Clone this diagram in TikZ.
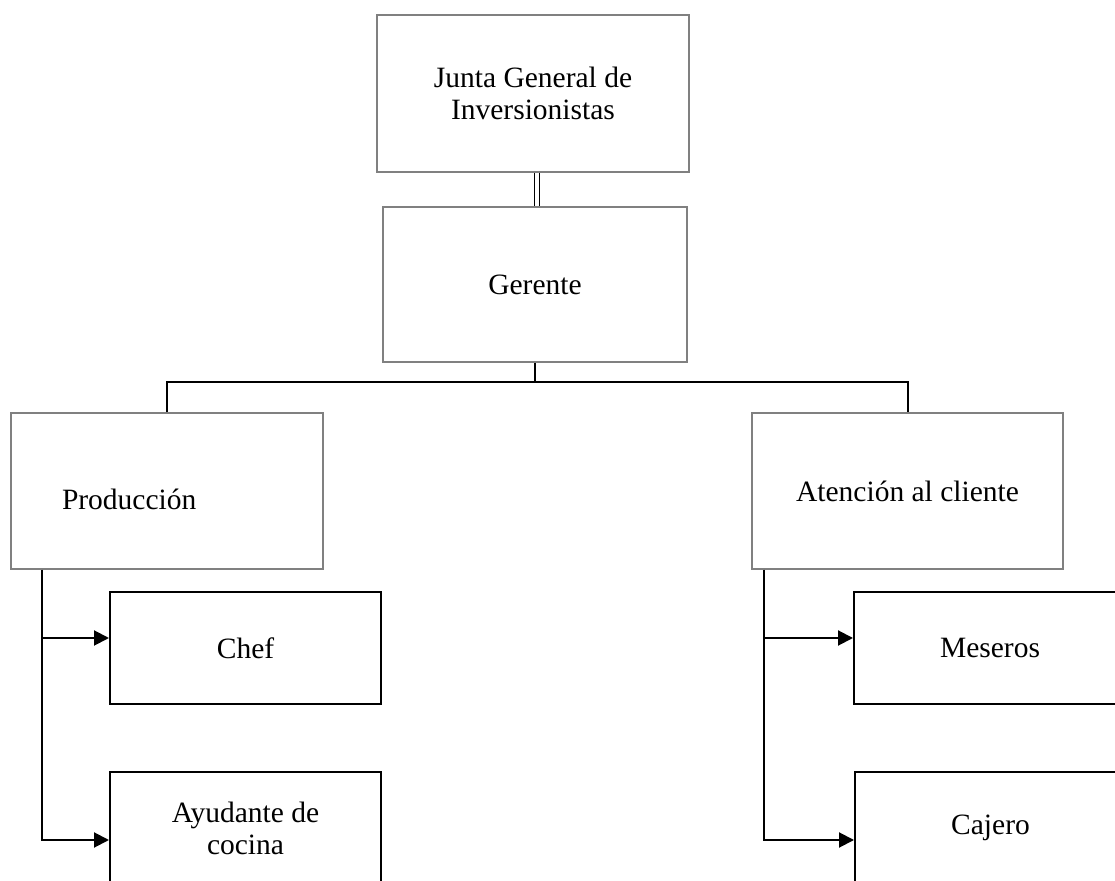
\documentclass[tikz,border=0pt]{standalone}
\usepackage{fontspec}
\setmainfont{Liberation Serif}
\usetikzlibrary{arrows.meta}

\begin{document}
\begin{tikzpicture}[x=1pt, y=1pt,
    every node/.style={font=\fontsize{29.5}{32}\selectfont},
    cajagris/.style={draw=black!50, line width=1.1pt, align=center, inner sep=0pt},
    cajanegra/.style={draw=black, line width=2pt, align=center, inner sep=0pt,
      minimum width=271pt, minimum height=112pt},
    conector/.style={line width=2pt},
    flecha/.style={conector, -{Triangle[length=15pt, width=15pt]}}]
  \useasboundingbox (0,0) rectangle (1115,880);
  \clip (0,0) rectangle (1115,880);
  % la junta y el gerente, arriba
  \node[cajagris, minimum width=312pt, minimum height=157pt] (junta) at (533,786.5)
    {Junta General de\\Inversionistas};
  \node[cajagris, minimum width=304pt, minimum height=155pt] (gerente) at (535,595.5) {Gerente};
  % las dos areas
  \node[cajagris, minimum width=312pt, minimum height=156pt, text width=210pt,
    inner xsep=51pt, align=left, text height=38pt] (produccion) at (167,389) {Producción};
  \node[cajagris, minimum width=311pt, minimum height=156pt] (atencion) at (907.5,389)
    {Atención al cliente};
  % los puestos de cada area
  \node[cajanegra] (chef) at (245.5,232) {Chef};
  \node[cajanegra] (ayudante) at (245.5,52) {Ayudante de\\cocina};
  \node[cajanegra, minimum width=272pt] (meseros) at (990,232) {Meseros};
  \node[cajanegra] (cajero) at (990.5,52) {Cajero};

  % doble raya de la junta al gerente
  \draw[double, double distance=3.5pt, line width=1.3pt]
    ([xshift=4pt]junta.south) -- ([xshift=4pt]junta.south |- gerente.north);
  % del gerente a las areas
  \draw[conector] (gerente.south) -- ++(0,-19) coordinate (barra);
  \draw[conector] (produccion.north) |- (barra) -| (atencion.north);
  % produccion
  \coordinate (troncoP) at ([xshift=32pt]produccion.south west);
  \coordinate (llegaChef) at ([yshift=10pt]chef.west);
  \draw[flecha] (troncoP) |- ([yshift=-12pt]ayudante.west);
  \draw[flecha] (troncoP |- llegaChef) -- (llegaChef);
  % atencion al cliente
  \coordinate (troncoA) at ([xshift=13pt]atencion.south west);
  \coordinate (llegaMes) at ([yshift=10pt]meseros.west);
  \draw[flecha] (troncoA) |- ([yshift=-12pt]cajero.west);
  \draw[flecha] (troncoA |- llegaMes) -- (llegaMes);
\end{tikzpicture}
\end{document}
